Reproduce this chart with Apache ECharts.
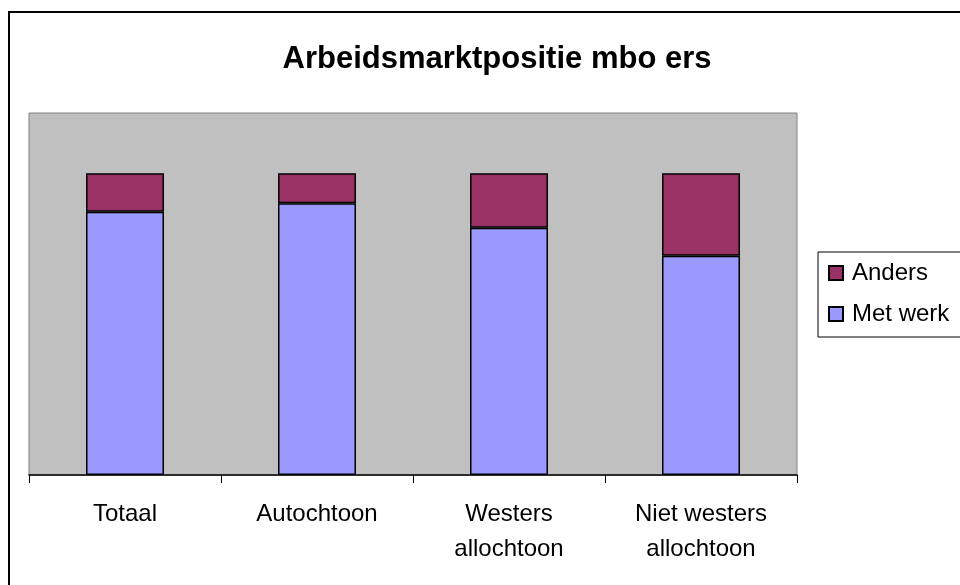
<!DOCTYPE html>
<html>
<head>
<meta charset="utf-8">
<script src="https://cdn.jsdelivr.net/npm/echarts@6/dist/echarts.min.js"></script>
<style>
  html, body { margin: 0; padding: 0; background: #fff; }
  #main { width: 960px; height: 585px; }
</style>
</head>
<body>
<div id="main"></div>
<script>
// groepen op de x-as
var categories = ['Totaal', 'Autochtoon', 'Westers\nallochtoon', 'Niet westers\nallochtoon'];
// percentages
var metWerk = [87.3, 90.1, 82.0, 72.7];
var anders = [12.7, 9.9, 18.0, 27.3];

var myChart = echarts.init(document.getElementById('main'));

myChart.setOption({
    backgroundColor: '#ffffff',
    textStyle: { fontFamily: 'Liberation Sans, Arial, sans-serif' },
    title: {
        text: 'Arbeidsmarktpositie mbo ers',
        left: 492,
        top: 39,
        textAlign: 'center',
        textStyle: { fontSize: 31, fontWeight: 'bold', color: '#000' }
    },
    // buitenrand van de grafiek
    graphic: [{
        type: 'rect',
        shape: { x: 9, y: 12, width: 1000, height: 1000 },
        style: { fill: 'none', stroke: '#000', lineWidth: 2 },
        silent: true
    }],
    legend: {
        orient: 'vertical',
        left: 818,
        top: 252,
        padding: [9, 60, 11, 10],
        borderColor: '#000',
        borderWidth: 1,
        itemWidth: 14,
        itemHeight: 14,
        itemGap: 17,
        icon: 'rect',
        data: ['Anders', 'Met werk'],
        textStyle: { fontSize: 24, lineHeight: 24, color: '#000', padding: [0, 0, 0, 4] }
    },
    grid: {
        left: 29,
        top: 113,
        width: 768,
        height: 362,
        show: true,
        backgroundColor: '#c0c0c0',
        borderColor: '#808080',
        borderWidth: 1
    },
    xAxis: {
        type: 'category',
        data: categories,
        boundaryGap: true,
        axisLine: { show: true, lineStyle: { color: '#000', width: 1.5 } },
        axisTick: { show: true, alignWithLabel: false, length: 8, lineStyle: { color: '#000' } },
        axisLabel: { fontSize: 24, lineHeight: 35, color: '#000', margin: 22, interval: 0 }
    },
    yAxis: {
        type: 'value',
        min: 0,
        max: 120,
        show: false,
        splitLine: { show: false }
    },
    series: [
        {
            name: 'Met werk',
            type: 'bar',
            stack: 'totaal',
            barWidth: 78,
            data: metWerk,
            itemStyle: { color: '#9999ff', borderColor: '#000', borderWidth: 1.5 }
        },
        {
            name: 'Anders',
            type: 'bar',
            stack: 'totaal',
            barWidth: 78,
            data: anders,
            itemStyle: { color: '#993366', borderColor: '#000', borderWidth: 1.5 }
        }
    ]
});
</script>
</body>
</html>
